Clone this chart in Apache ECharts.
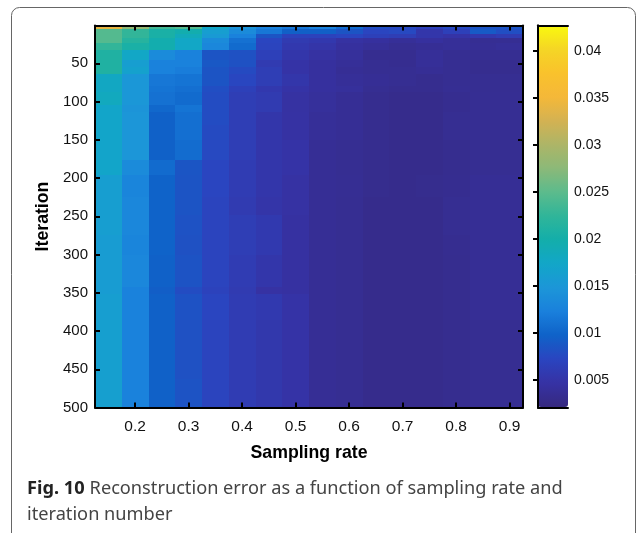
<!DOCTYPE html>
<html>
<head>
<meta charset="utf-8">
<script src="https://cdn.jsdelivr.net/npm/echarts@6/dist/echarts.min.js"></script>
<style>html,body{margin:0;padding:0;background:#fff}#c{width:636px;height:533px}</style>
</head>
<body>
<div id="c"></div>
<script>
const samplingRates = [0.15,0.2,0.25,0.3,0.35,0.4,0.45,0.5,0.55,0.6,0.65,0.7,0.75,0.8,0.85,0.9];
const rateStep = 0.05;
const iterationEdges = [0.5,5,11,17,24,33,46,55,64,79,88,105,114,131,150,177,196,225,248,274,300,343,352,385,424,463,500];
const row01 = [.034,.028,.0235,.0245,.0175,.0145,.0125,.0115,.0125,.0105,.008,.0075,.0065,.0075,.0085,.0085];
const row02 = [.0245,.0225,.0205,.0195,.016,.0135,.0115,.0095,.0095,.0085,.0072,.0075,.0052,.0065,.009,.008];
const row03 = [.0245,.0225,.0205,.0185,.0155,.0125,.0085,.0068,.0068,.0072,.0065,.0062,.0052,.0048,.0055,.006];
const row04 = [.0245,.0215,.0195,.0175,.0135,.011,.0072,.0058,.0055,.0045,.0042,.0038,.0042,.0038,.0035,.0035];
const row05 = [.0225,.0205,.0195,.0175,.013,.0105,.007,.0055,.005,.0042,.0038,.0034,.0036,.0038,.0036,.0038];
const row06 = [.021,.0175,.0135,.0125,.0085,.0082,.0065,.0052,.0045,.004,.0033,.0033,.0038,.0034,.0034,.0034];
const row07 = [.021,.016,.0125,.0125,.0088,.0082,.0058,.0048,.0042,.0038,.0034,.0033,.0038,.0034,.0032,.0032];
const row08 = [.021,.0165,.0125,.012,.0085,.0076,.0062,.0048,.0042,.0036,.0034,.0034,.0036,.0034,.0032,.0032];
const row09 = [.0178,.015,.0115,.0112,.0085,.0073,.0062,.0052,.0042,.0038,.0036,.0034,.0032,.0034,.0034,.0034];
const row10 = [.0178,.015,.0112,.0108,.008,.0065,.0055,.0048,.0042,.004,.0034,.0032,.0032,.0035,.0034,.0034];
const row11 = [.0182,.015,.011,.0105,.0078,.0062,.0058,.0045,.004,.0036,.0032,.003,.003,.0033,.0035,.0035];
const row12 = [.0172,.0145,.0102,.0112,.0078,.0062,.0058,.0045,.004,.0036,.0032,.003,.003,.0033,.0035,.0035];
const row13 = [.0172,.0148,.0096,.0108,.0078,.0062,.0052,.0046,.0038,.0036,.0032,.003,.003,.0034,.0035,.0035];
const row14 = [.0172,.0148,.0096,.0108,.0076,.0062,.0052,.0046,.0038,.0036,.0032,.003,.003,.0034,.0035,.0035];
const row15 = [.017,.0148,.0096,.0106,.0075,.0062,.0052,.0048,.0036,.0034,.0032,.003,.003,.0032,.0034,.0034];
const row16 = [.0172,.0135,.0105,.0086,.0072,.006,.0052,.0048,.0036,.0034,.0031,.003,.003,.0032,.0034,.0034];
const row17 = [.016,.0128,.0098,.0085,.0072,.006,.0052,.0046,.0036,.0035,.0031,.003,.0031,.0033,.0036,.0036];
const row18 = [.016,.013,.0098,.0085,.007,.0058,.005,.0046,.0036,.0034,.003,.003,.003,.0034,.0036,.0036];
const row19 = [.016,.013,.0098,.0083,.007,.0062,.0056,.0044,.0036,.0034,.003,.003,.003,.0034,.0036,.0036];
const row20 = [.0158,.0128,.0098,.0082,.007,.0062,.0056,.0044,.0036,.0034,.003,.003,.003,.0033,.0036,.0036];
const row21 = [.0158,.013,.0096,.0084,.007,.006,.0052,.0044,.0036,.0034,.003,.003,.003,.0032,.0036,.0036];
const row22 = [.0158,.0125,.0094,.0078,.0068,.0058,.0046,.0044,.0036,.0034,.003,.003,.003,.0032,.0036,.0036];
const row23 = [.016,.0125,.0096,.0083,.0072,.006,.0056,.0048,.0036,.0034,.003,.003,.003,.0032,.0036,.0036];
const row24 = [.0162,.0125,.0096,.0082,.007,.006,.0054,.0048,.0036,.0034,.003,.003,.003,.0032,.0034,.0034];
const row25 = [.0162,.0125,.0096,.0082,.007,.006,.0054,.0048,.0036,.0034,.003,.003,.003,.0032,.0034,.0034];
const row26 = [.0162,.0125,.0096,.0084,.007,.006,.0054,.0048,.0036,.0034,.003,.003,.003,.0032,.0034,.0034];
const errorRows = [row01,row02,row03,row04,row05,row06,row07,row08,row09,row10,row11,row12,row13,row14,row15,row16,row17,row18,row19,row20,row21,row22,row23,row24,row25,row26];
const xTicks = [0.2,0.3,0.4,0.5,0.6,0.7,0.8,0.9];
const yTicks = [50,100,150,200,250,300,350,400,450,500];
const barTicks = [0.005,0.01,0.015,0.02,0.025,0.03,0.035,0.04];
const errMin = 0.0021, errMax = 0.0427;
const colorStops = ['#36297f','#3632a4','#2a45c0','#0f62c8','#1a80dc','#1c96d8','#12a6c8','#13aeaa','#30b599','#5cbb8d','#8cb978','#adb567','#d4b252','#f5b838','#f9c22c','#f5d625','#f9fa0e'];

const cells = [];
errorRows.forEach((row, r) => row.forEach((v, c) => cells.push([samplingRates[c], iterationEdges[r], iterationEdges[r+1], v])));

const black = '#000';
const lineS = {show:true, lineStyle:{color:black, width:2}};
const labelFont = {fontFamily:'"Liberation Sans",Arial,sans-serif', fontSize:15, color:'#111'};
function hiddenLabel(){return {show:false};}
const mainX = {type:'value', min:0.125, max:0.925, gridIndex:0, z:5, splitLine:{show:false}, axisLine:lineS};
const mainY = {type:'value', min:0.5, max:500, inverse:true, gridIndex:0, z:5, splitLine:{show:false}, axisLine:lineS};
const tickS = (vals) => ({show:true, inside:true, length:5, lineStyle:{color:black, width:2}, customValues:vals});
const chart = echarts.init(document.getElementById('c'), null, {renderer:'canvas'});
chart.setOption({
  animation:false,
  backgroundColor:'#fff',
  title:{
    text:'{b|Fig. 10} {n|Reconstruction error as a function of sampling rate and}\n{n|iteration number}',
    left:27, top:476, padding:0,
    textStyle:{rich:{
      b:{fontFamily:'"Noto Sans"',fontWeight:'bold',fontSize:18.2,lineHeight:26,color:'#222'},
      n:{fontFamily:'"Noto Sans"',fontWeight:'normal',fontSize:18.2,lineHeight:26,color:'#444'}
    }}
  },
  graphic:[{type:'rect', shape:{x:11.5, y:7.5, width:624, height:560, r:[8,8,0,0]}, style:{fill:'none', stroke:'#666', lineWidth:1}, silent:true, z:-1}],
  grid:[
    {left:95, top:25.5, width:428, height:382, containLabel:false},
    {left:538, top:25.5, width:30, height:382, containLabel:false}
  ],
  xAxis:[
    Object.assign({}, mainX, {position:'bottom', name:'Sampling rate', nameLocation:'middle', nameGap:37,
      nameTextStyle:{fontFamily:'"Liberation Sans",Arial,sans-serif', fontWeight:'bold', fontSize:17.7, color:'#000'},
      axisTick:tickS(xTicks), axisLabel:Object.assign({show:true, margin:11, customValues:xTicks, formatter:v=>v.toFixed(1)}, labelFont, {fontSize:15.5})}),
    Object.assign({}, mainX, {position:'top', axisTick:tickS(xTicks), axisLabel:hiddenLabel()}),
    {type:'value', gridIndex:1, min:0, max:1, position:'bottom', z:5, splitLine:{show:false}, axisLine:lineS, axisTick:{show:false}, axisLabel:hiddenLabel()},
    {type:'value', gridIndex:1, min:0, max:1, position:'top', z:5, splitLine:{show:false}, axisLine:lineS, axisTick:{show:false}, axisLabel:hiddenLabel()}
  ],
  yAxis:[
    Object.assign({}, mainY, {position:'left', name:'Iteration', nameLocation:'middle', nameGap:41, nameRotate:90,
      nameTextStyle:{fontFamily:'"Liberation Sans",Arial,sans-serif', fontWeight:'bold', fontSize:17.7, color:'#000'},
      axisTick:tickS(yTicks), axisLabel:Object.assign({show:true, margin:7, customValues:yTicks}, labelFont)}),
    Object.assign({}, mainY, {position:'right', axisTick:tickS(yTicks), axisLabel:hiddenLabel()}),
    {type:'value', gridIndex:1, min:errMin, max:errMax, position:'left', z:5, splitLine:{show:false}, axisLine:lineS, axisTick:{show:false}, axisLabel:hiddenLabel()},
    {type:'value', gridIndex:1, min:errMin, max:errMax, position:'right', z:5, splitLine:{show:false}, axisLine:lineS,
      axisTick:tickS(barTicks), axisLabel:Object.assign({show:true, margin:6, customValues:barTicks, formatter:v=>String(+v.toFixed(3))}, labelFont, {fontSize:14})}
  ],
  visualMap:{
    type:'continuous', min:errMin, max:errMax, dimension:3, seriesIndex:0,
    left:538, top:25, itemWidth:30, itemHeight:382, padding:0, text:null, calculable:false,
    showLabel:false, z:1, inRange:{color:colorStops}, textStyle:{color:'transparent'}
  },
  series:[{
    type:'custom', xAxisIndex:0, yAxisIndex:0, clip:true, z:2,
    encode:{x:0, y:[1,2]},
    data:cells,
    renderItem:function(params, api){
      const p0 = api.coord([api.value(0)-rateStep/2, api.value(1)]);
      const p1 = api.coord([api.value(0)+rateStep/2, api.value(2)]);
      const x0 = Math.round(p0[0]), x1 = Math.round(p1[0]), y0 = Math.round(p0[1]), y1 = Math.round(p1[1]);
      return {type:'rect', shape:{x:x0, y:y0, width:x1-x0, height:y1-y0},
        style:{fill:api.visual('color')}};
    }
  }]
});
</script>
</body>
</html>
